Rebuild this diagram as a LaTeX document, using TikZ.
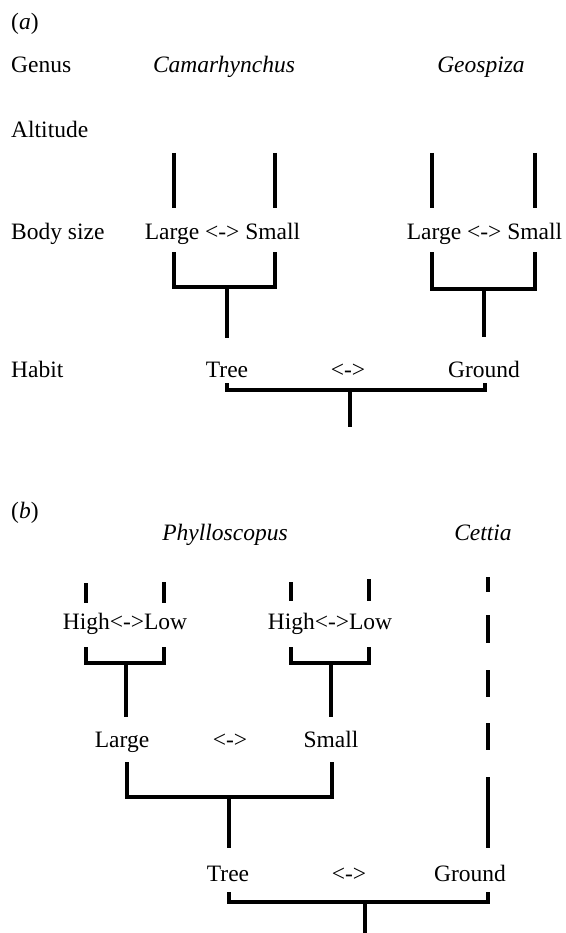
\documentclass[tikz,border=0pt]{standalone}
\usepackage{fontspec}
\setmainfont{Liberation Serif}

\begin{document}
\begin{tikzpicture}[x=1pt,y=-1pt,
		lbl/.style={anchor=base,inner sep=0pt,font=\fontsize{23.5}{28}\selectfont},
		row/.style={lbl,anchor=base west},
		gen/.style={lbl,font=\fontsize{23.5}{28}\selectfont\itshape},
		br/.style={line width=3.1pt},
		gap/.style={br,dash pattern=on 15pt off 23pt on 28pt off 27pt on 27pt off 26pt on 27pt off 27pt on 71pt}]
	\useasboundingbox (0,0) rectangle (565,933);

	% (a) finches
	\node[row] (pa) at (11,30) {(\textit{a})};
	\node[row] (genus) at (11,73) {Genus};
	\node[gen] (camar) at (224,73) {Camarhynchus};
	\node[gen] (geosp) at (481,73) {Geospiza};
	\node[row] (alt) at (11,138) {Altitude};
	\node[row] (body) at (11,240) {Body size};
	\node[lbl] (sizeC) at (222.5,240) {Large <-> Small};
	\node[lbl] (sizeG) at (484.5,240) {Large <-> Small};
	\node[row] (habit) at (11,377) {Habit};
	\node[lbl] (treeA) at (227,377) {Tree};
	\node[lbl] (habA) at (348,377) {<->};
	\node[lbl] (groundA) at (484,377) {Ground};

	\coordinate (c1t) at (174,153); \coordinate (c1b) at (174,208);
	\coordinate (c2t) at (275,153); \coordinate (c2b) at (275,208);
	\coordinate (g1t) at (432,153); \coordinate (g1b) at (432,208);
	\coordinate (g2t) at (535,153); \coordinate (g2b) at (535,208);
	\draw[br] (c1t)--(c1b);
	\draw[br] (c2t)--(c2b);
	\draw[br] (g1t)--(g1b);
	\draw[br] (g2t)--(g2b);

	\coordinate (cl) at (174,252); \coordinate (cr) at (275,252);
	\coordinate (cm) at (227,287); \coordinate (ce) at (227,338);
	\draw[br] (cl)--(cl|-cm)--(cr|-cm)--(cr);
	\draw[br] (cm)--(ce);
	\coordinate (gl) at (432,252); \coordinate (gr) at (535,252);
	\coordinate (gm) at (484,289); \coordinate (ge) at (484,337);
	\draw[br] (gl)--(gl|-gm)--(gr|-gm)--(gr);
	\draw[br] (gm)--(ge);

	\coordinate (hl) at (227,383); \coordinate (hr) at (485,383);
	\coordinate (hm) at (350,390); \coordinate (he) at (350,427);
	\draw[br] (hl)--(hl|-hm)--(hr|-hm)--(hr);
	\draw[br] (hm)--(he);

	% (b) warblers
	\node[row] (pb) at (11,518) {(\textit{b})};
	\node[gen] (phyl) at (225,540) {Phylloscopus};
	\node[gen] (cett) at (483,540) {Cettia};
	\node[lbl] (altL) at (125,629) {High<->Low};
	\node[lbl] (altS) at (330,629) {High<->Low};
	\node[lbl] (large) at (122,747) {Large};
	\node[lbl] (sizeB) at (230,747) {<->};
	\node[lbl] (small) at (331,747) {Small};
	\node[lbl] (treeB) at (228,881) {Tree};
	\node[lbl] (habB) at (349,881) {<->};
	\node[lbl] (groundB) at (470,881) {Ground};

	\coordinate (l1t) at (86,583); \coordinate (l1b) at (86,603);
	\coordinate (l2t) at (164,582); \coordinate (l2b) at (164,603);
	\coordinate (s1t) at (291,582); \coordinate (s1b) at (291,601);
	\coordinate (s2t) at (369,579); \coordinate (s2b) at (369,601);
	\draw[br] (l1t)--(l1b);
	\draw[br] (l2t)--(l2b);
	\draw[br] (s1t)--(s1b);
	\draw[br] (s2t)--(s2b);

	\coordinate (ll) at (86,647); \coordinate (lr) at (164,647);
	\coordinate (lm) at (126,663); \coordinate (le) at (126,717);
	\draw[br] (ll)--(ll|-lm)--(lr|-lm)--(lr);
	\draw[br] (lm)--(le);
	\coordinate (sl) at (291,647); \coordinate (sr) at (369,647);
	\coordinate (sm) at (331,663); \coordinate (se) at (331,717);
	\draw[br] (sl)--(sl|-sm)--(sr|-sm)--(sr);
	\draw[br] (sm)--(se);

	\coordinate (bl) at (127,762); \coordinate (bq) at (332,762);
	\coordinate (bm) at (229,797); \coordinate (be) at (229,848);
	\draw[br] (bl)--(bl|-bm)--(bq|-bm)--(bq);
	\draw[br] (bm)--(be);

	\coordinate (ct) at (488,577); \coordinate (cb) at (488,848);
	\draw[gap] (ct)--(cb);

	\coordinate (wl) at (229,892); \coordinate (wr) at (488,892);
	\coordinate (wm) at (365,902); \coordinate (we) at (365,933);
	\draw[br] (wl)--(wl|-wm)--(wr|-wm)--(wr);
	\draw[br] (wm)--(we);
\end{tikzpicture}
\end{document}
